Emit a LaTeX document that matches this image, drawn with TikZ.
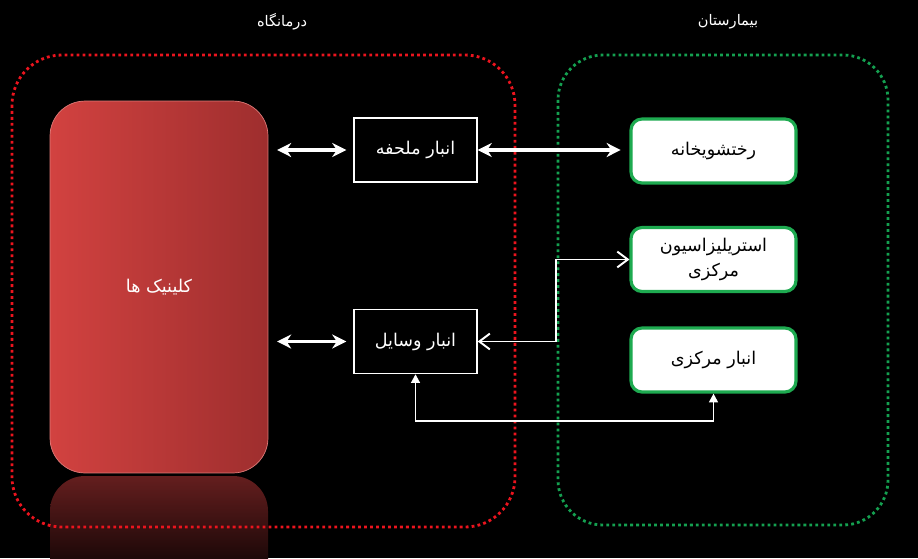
\documentclass[tikz,border=0pt]{standalone}
\usepackage{fontspec}
\newfontfamily\farsi[Script=Arabic]{DejaVu Sans}
\TeXXeTstate=1
\usepackage{tikz}
\usetikzlibrary{arrows.meta}
\usetikzlibrary{calc}
\usetikzlibrary{positioning}
\definecolor{clinicL}{RGB}{210, 66, 64}
\definecolor{clinicR}{RGB}{158, 46, 46}
\definecolor{reflTop}{RGB}{100, 30, 30}
\definecolor{reflBot}{RGB}{28, 8, 8}
\definecolor{dotred}{RGB}{235, 20, 30}
\definecolor{dotgreen}{RGB}{20, 160, 80}
\definecolor{boxgreen}{RGB}{30, 170, 80}
\tikzset{
    dblarrow/.style={arrows={Stealth[length=8pt,width=8pt]-Stealth[length=8pt,width=8pt]}, line width=2pt, white},
    openarrow/.style={arrows={Straight Barb[length=6pt,width=9pt]-Straight Barb[length=6pt,width=9pt]}, line width=1.1pt, white},
    smallarrow/.style={arrows={Triangle[length=5pt,width=5pt]-Triangle[length=5pt,width=5pt]}, line width=1.1pt, white},
    store/.style = {
      rectangle,
      draw=white,
      line width=0.8pt,
      fill=black,
      text=white,
      minimum width=2.46cm,
      minimum height=1.28cm,
      font=\fontsize{10}{14}\selectfont\farsi
    },
    unit/.style = {
      rectangle,
      rounded corners=0.22cm,
      draw=boxgreen,
      line width=1.8pt,
      fill=white,
      text=black,
      align=center,
      minimum width=3.3cm,
      minimum height=1.28cm,
      font=\fontsize{10}{14}\selectfont\farsi
    },
    zone/.style = {
      line width=1.6pt,
      dash pattern=on 1.6pt off 1.8pt,
      rounded corners=1cm
    },
    title/.style = {text=white, font=\fontsize{8.3}{10}\selectfont\farsi},
}
\begin{document}
\begin{tikzpicture}[x=0.02cm, y=-0.02cm]
  \useasboundingbox (0,0) rectangle (918,558);
  \fill[black] (0,0) rectangle (918,558);

  % titles
  \node[title] (tclinic) at (282,22) {\beginR درمانگاه\endR};
  \node[title] (thospital) at (728,22) {\beginR بیمارستان\endR};

  % reflection of the clinics, below the zone line
  \shade[top color=reflTop, bottom color=reflBot]
    (50,560) [rounded corners=0.7cm] -- (50,476) -- (268,476) [sharp corners] -- (268,560) -- cycle;

  % dotted zones
  \draw[zone, dotred] (12,55) rectangle (515,527);
  \draw[zone, dotgreen, rounded corners=0.9cm] (558,55) rectangle (888,525);

  % clinics
  \node[shade, left color=clinicL, right color=clinicR, draw=clinicL!70!white, thin,
        rounded corners=0.7cm, minimum width=4.36cm, minimum height=7.44cm,
        text=white, font=\fontsize{10}{14}\selectfont\farsi] (clinic) at (159,287) {\beginR کلینیک ها\endR};

  % stores
  \node[store] (ablinen) at (415.5,150) {\beginR انبار ملحفه\endR};
  \node[store] (avasayel) at (415.5,341.5) {\beginR انبار وسایل\endR};

  % hospital units
  \node[unit] (washing) at (713.5,151) {\beginR رختشویخانه\endR};
  \node[unit] (steril) at (713.5,259.5) {\beginR استریلیزاسیون\endR\\\beginR مرکزی\endR};
  \node[unit] (amarkazi) at (713.5,360) {\beginR انبار مرکزی\endR};

  % connectors
  \draw[dblarrow, shorten <=5pt, shorten >=4pt] (ablinen.west -| clinic.east) -- (ablinen.west);
  \draw[dblarrow, shorten <=5pt, shorten >=4pt] (avasayel.west -| clinic.east) -- (avasayel.west);
  \draw[dblarrow, shorten >=5pt] (ablinen.east) -- (ablinen.east -| washing.west);

  \coordinate (bend) at ($(avasayel.east)+(78,0)$);
  \draw[openarrow] (avasayel.east) -- (bend) |- (steril.west);
  \draw[smallarrow] (avasayel.south) -- ++(0,47) -| (amarkazi.south);
\end{tikzpicture}
\end{document}
